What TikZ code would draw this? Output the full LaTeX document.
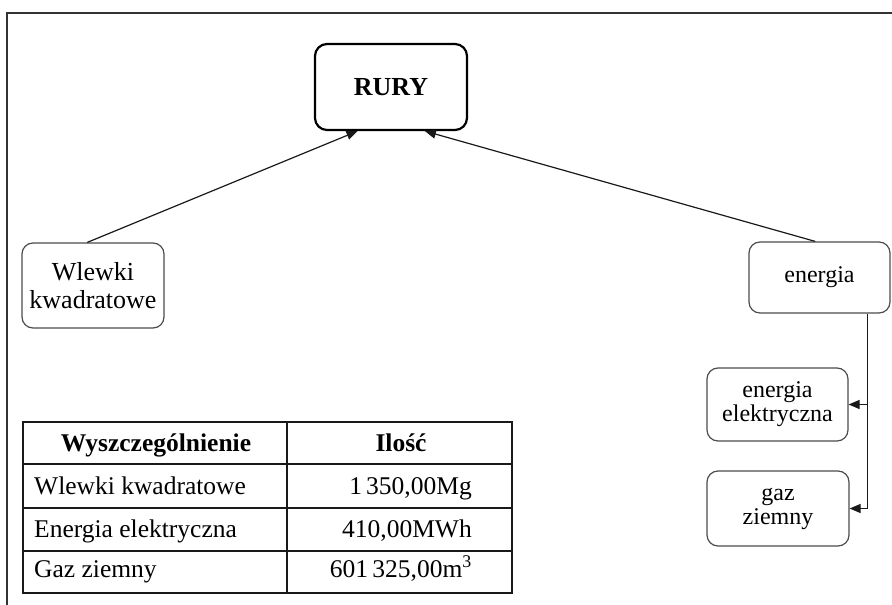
\documentclass[tikz,border=0pt]{standalone}
\usepackage{fontspec}
\setmainfont{Liberation Serif}
\usetikzlibrary{arrows.meta,calc}
\begin{document}
\begin{tikzpicture}[x=1pt,y=-1pt,
  box/.style={draw=black!70,line width=1.2pt,rounded corners=11pt,align=center,inner sep=0pt,
    font=\fontsize{24}{24}\selectfont},
  conn/.style={draw=black!90,line width=1.2pt,-{Triangle[length=11pt,width=9pt]}},
  tabline/.style={draw=black!90,line width=1.5pt},
  tabtxt/.style={inner sep=0pt,font=\fontsize{25.5}{29}\selectfont}]
\useasboundingbox (0,0) rectangle (892,605);
% frame
\draw[line width=2pt,black!80] (892,13) -- (7,13) -- (7,605);
% nodes
\node[draw=black,line width=2.2pt,rounded corners=12pt,minimum width=152pt,minimum height=86pt,inner sep=0pt,
  font=\fontsize{26}{26}\selectfont\bfseries] (rury) at (391,87) {RURY};
\node[box,minimum width=142pt,minimum height=85pt,font=\fontsize{26}{28}\selectfont] (wl) at (93,285.5) {Wlewki\\kwadratowe};
\node[box,minimum width=141pt,minimum height=71pt] (en) at (819.5,277.5) {energia};
\node[box,minimum width=141pt,minimum height=73pt] (el) at (777.5,404.5) {energia\\elektryczna};
\node[box,minimum width=142pt,minimum height=75pt] (gz) at (778,508.5) {gaz\\ziemny};
% connectors
\draw[conn] ($(wl.north west)!0.46!(wl.north east)$) -- ($(rury.south west)!0.283!(rury.south east)$);
\draw[conn] ($(en.north west)!0.47!(en.north east)$) -- ($(rury.south west)!0.72!(rury.south east)$);
\coordinate (bus) at ($(en.south west)!0.837!(en.south east)$);
\draw[conn] (bus) |- (gz.east);
\draw[conn] (el.east -| bus) -- (el.east);
% table
\draw[tabline] (23,422) rectangle (512,593);
\draw[tabline] (287,422) -- (287,593);
\draw[tabline] (23,464) -- (512,464);
\draw[tabline] (23,508) -- (512,508);
\draw[tabline] (23,551) -- (512,551);
\node[tabtxt,anchor=base,font=\fontsize{25.5}{29}\selectfont\bfseries] (h1) at (156,451) {Wyszczególnienie};
\node[tabtxt,anchor=base,font=\fontsize{25.5}{29}\selectfont\bfseries] (h2) at (401,451) {Ilość};
\node[tabtxt,anchor=base west] (r1a) at (34,494) {Wlewki kwadratowe};
\node[tabtxt,anchor=base west] (r2a) at (34,537) {Energia elektryczna};
\node[tabtxt,anchor=base west] (r3a) at (34,577) {Gaz ziemny};
\node[tabtxt,anchor=base east] (r1b) at (472,494) {1\,350,00Mg};
\node[tabtxt,anchor=base east] (r2b) at (472,537) {410,00MWh};
\node[tabtxt,anchor=base east] (r3b) at (472,577) {601\,325,00m\textsuperscript{3}};
\end{tikzpicture}
\end{document}
